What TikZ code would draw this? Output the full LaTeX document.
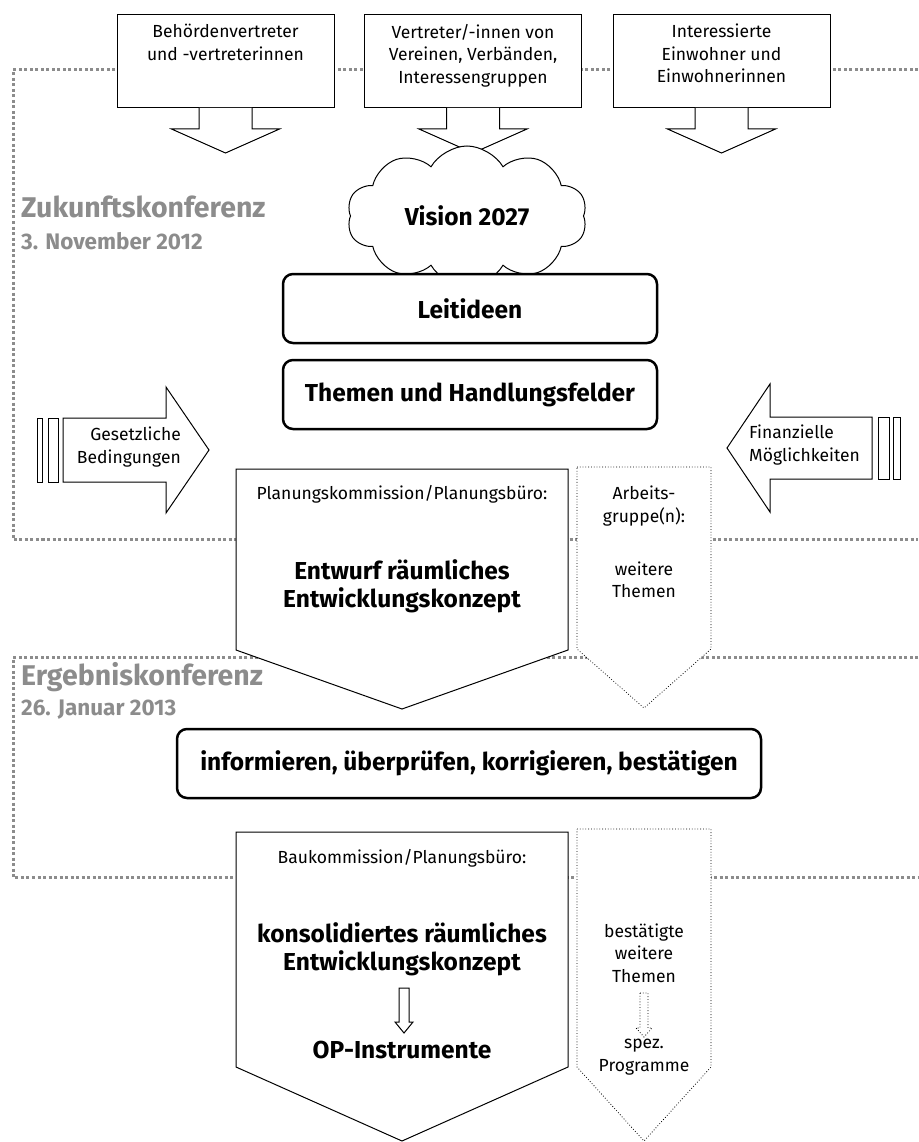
\documentclass[tikz,border=0pt]{standalone}
\usepackage{fontspec}
\setmainfont{Fira Sans}
\usetikzlibrary{shapes.symbols}

\definecolor{confgray}{HTML}{8C8C8C}
\newcommand{\normtxt}{\fontsize{17.5}{22.5}\selectfont}
\newcommand{\boldtxt}{\fontsize{24.5}{28}\selectfont\bfseries}

\tikzset{
    frameline/.style={draw=confgray, line width=3pt, dash pattern=on 3pt off 2.5pt},
    conftitle/.style={anchor=west, inner sep=0pt, text=confgray, font=\fontsize{28.5}{32}\selectfont\bfseries},
    confdate/.style={anchor=west, inner sep=0pt, text=confgray, font=\fontsize{22.5}{26}\selectfont\bfseries},
    topbox/.style={draw, line width=1pt, fill=white, minimum width=217pt, minimum height=93pt, anchor=north, inner sep=0pt},
    toptext/.style={anchor=north, yshift=-10pt, inner sep=0pt, align=center, font=\normtxt},
    blockline/.style={draw, line width=1pt, fill=white},
    dotline/.style={draw, line width=0.8pt, dotted, fill=white},
    roundbox/.style={draw, line width=2.5pt, rounded corners=10pt, fill=white, minimum height=69pt, font=\boldtxt},
    plain/.style={inner sep=0pt, align=center, font=\normtxt},
    bold/.style={inner sep=0pt, align=center, font=\boldtxt}
}

\begin{document}
\begin{tikzpicture}[x=1pt, y=-1pt]
    \useasboundingbox (0,0) rectangle (918,1142);

    \draw[frameline] (918,70) -- (13,70) -- (13,539) -- (918,539);
    \draw[frameline] (918,657) -- (13,657) -- (13,877) -- (918,877);
    \node[conftitle] at (21,207) (zukunft) {Zukunftskonferenz};
    \node[confdate] at (21,241) (zukunftdatum) {3. November 2012};
    \node[conftitle] at (21,677) (ergebnis) {Ergebniskonferenz};
    \node[confdate] at (21,710) (ergebnisdatum) {26. Januar 2013};

    \node[topbox] at (225.5,14) (behoerden) {};
    \node[topbox] at (473,14) (vereine) {};
    \node[topbox] at (721.5,14) (einwohner) {};
    \node[toptext] at (behoerden.north) (behoerdentext) {Behördenvertreter\\und -vertreterinnen};
    \node[toptext] at (vereine.north) (vereinetext) {Vertreter/-innen von\\Vereinen, Verbänden,\\Interessengruppen};
    \node[toptext] at (einwohner.north) (einwohnertext) {Interessierte\\Einwohner und\\Einwohnerinnen};
    \draw[blockline] ([xshift=-26.5pt]behoerden.south) -- ++(0,21) -- ++(-27.5,0) -- ++(54,24) -- ++(54,-24) -- ++(-27.5,0) -- ++(0,-21);
    \draw[blockline] ([xshift=-26.5pt]vereine.south) -- ++(0,21) -- ++(-27.5,0) -- ++(54,24) -- ++(54,-24) -- ++(-27.5,0) -- ++(0,-21);
    \draw[blockline] ([xshift=-26.5pt]einwohner.south) -- ++(0,21) -- ++(-27.5,0) -- ++(54,24) -- ++(54,-24) -- ++(-27.5,0) -- ++(0,-21);

    \node[draw, cloud, cloud puffs=10, cloud puff arc=120, cloud ignores aspect, line width=1pt, fill=white, minimum width=240pt, minimum height=140pt, font=\boldtxt] at (467,216) (vision) {Vision 2027};
    \node[roundbox, minimum width=374pt] at (470,308.5) (leitideen) {Leitideen};
    \node[roundbox, minimum width=374pt] at (470,394.5) (themen) {Themen und Handlungsfelder};

    \draw[blockline] (37,418) rectangle (42,482);
    \draw[blockline] (48,418) rectangle (58,482);
    \draw[blockline] (63,418) -- (166,418) -- (166,387) -- (209,450) -- (166,513) -- (166,482) -- (63,482) -- cycle;
    \node[plain, anchor=east, align=right] at (181,447) (gesetz) {Gesetzliche\\Bedingungen};
    \draw[blockline] (727,448) -- (770,384) -- (770,417) -- (872,417) -- (872,479) -- (770,479) -- (770,512) -- cycle;
    \draw[blockline] (878,417) rectangle (889,479);
    \draw[blockline] (893,417) rectangle (900,479);
    \node[plain, anchor=west, align=left] at (749,445) (finanz) {Finanzielle\\Möglichkeiten};

    \draw[blockline] (236,469) -- (568,469) -- (568,650) -- (402,709) -- (236,650) -- cycle;
    \draw[dotline] (577,467) -- (711,467) -- (711,649) -- (644,708) -- (577,649) -- cycle;
    \node[plain] at (402,494) (planung) {Planungskommission/Planungsbüro:};
    \node[bold] at (402,586) (entwurf) {Entwurf räumliches\\Entwicklungskonzept};
    \node[plain] at (644,506) (arbeitsgruppe) {Arbeits-\\gruppe(n):};
    \node[plain] at (644,580) (weitere) {weitere\\Themen};

    \node[roundbox, minimum width=584pt] at (469,763.5) (informieren) {informieren, überprüfen, korrigieren, bestätigen};

    \draw[blockline] (236,832) -- (568,832) -- (568,1067) -- (402,1141) -- (236,1067) -- cycle;
    \draw[dotline] (577,829) -- (711,829) -- (711,1067) -- (644,1141) -- (577,1067) -- cycle;
    \node[plain] at (402,858) (baukommission) {Baukommission/Planungsbüro:};
    \node[bold] at (402,949) (konsolidiert) {konsolidiertes räumliches\\Entwicklungskonzept};
    \node[bold] at (402,1050) (instrumente) {OP-Instrumente};
    \draw[blockline] (399,988) -- (409,988) -- (409,1022) -- (413,1022) -- (404,1033) -- (395,1022) -- (399,1022) -- cycle;
    \node[plain] at (644,953) (bestaetigt) {bestätigte\\weitere\\Themen};
    \node[plain] at (644,1057) (programme) {spez.\\Programme};
    \draw[dotline] (640,993) -- (648,993) -- (648,1028) -- (652,1028) -- (644,1037) -- (636,1028) -- (640,1028) -- cycle;
\end{tikzpicture}
\end{document}
